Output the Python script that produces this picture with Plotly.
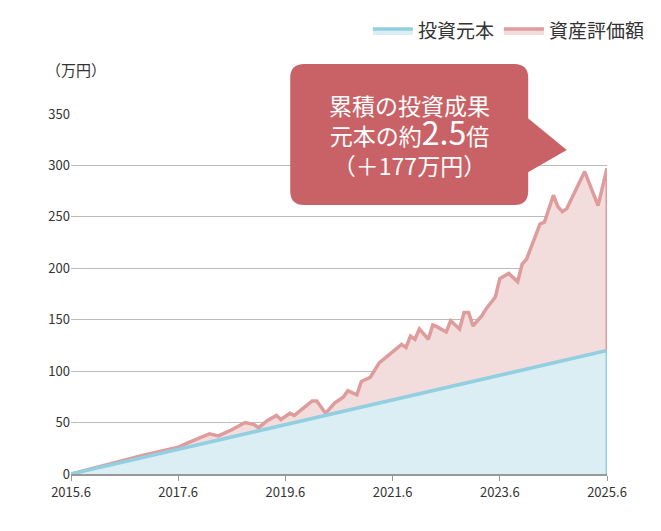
import plotly.graph_objects as go

# months since 2015.6
months = list(range(0, 121))
principal = [m * 1.0 for m in months]  # 1万円 per month

asset_months = [0, 16, 24, 26, 31, 33, 36, 39, 41, 42, 44, 46, 47, 49, 50, 54, 55, 57, 59, 61, 62, 64, 65,
                67, 69, 72, 74, 75, 76, 77, 78, 80, 81, 82, 84, 85, 87, 88, 89, 90, 92, 93, 95, 96, 98,
                100, 101, 102, 104, 105, 106, 108, 109, 110, 111, 113, 115, 118, 120]
asset_values = [0, 18, 26, 30, 39, 37, 43, 50, 48, 45, 52, 57, 53, 59, 57, 71, 71, 59, 69, 75, 81, 77, 90,
                94, 108, 119, 126, 123, 134, 131, 141, 131, 145, 143, 138, 149, 141, 157, 157, 144, 154, 161, 172, 190, 195,
                187, 204, 209, 231, 243, 245, 271, 260, 255, 258, 276, 294, 261, 297]

tick_vals = [0, 24, 48, 72, 96, 120]
tick_text = ["2015.6", "2017.6", "2019.6", "2021.6", "2023.6", "2025.6"]

BLUE = "#92cfe0"
PINK = "#de9c9c"
FONT = "Noto Sans CJK JP"

fig = go.Figure()
fig.add_trace(go.Scatter(x=asset_months, y=asset_values, mode="lines", name="資産評価額",
                         line=dict(color=PINK, width=3.5), fill="tozeroy", fillcolor="#f3dcdc"))
fig.add_trace(go.Scatter(x=months, y=principal, mode="lines", name="投資元本",
                         line=dict(color=BLUE, width=3.5), fill="tozeroy", fillcolor="#dbeef4"))
# right edge strokes
fig.add_trace(go.Scatter(x=[asset_months[-1]] * 2, y=[principal[-1], asset_values[-1]], mode="lines",
                         line=dict(color=PINK, width=3), showlegend=False, hoverinfo="skip"))
fig.add_trace(go.Scatter(x=[months[-1]] * 2, y=[0, principal[-1]], mode="lines",
                         line=dict(color=BLUE, width=3), showlegend=False, hoverinfo="skip"))

# callout box
x0, x1, y0, y1 = 0.409, 0.853, 0.747, 1.139
rx, ry = 14 / 536, 14 / 360
box = (f"M {x0+rx},{y0} L {x1-rx},{y0} Q {x1},{y0} {x1},{y0+ry} "
       f"L {x1},{y1-ry} Q {x1},{y1} {x1-rx},{y1} L {x0+rx},{y1} Q {x0},{y1} {x0},{y1-ry} "
       f"L {x0},{y0+ry} Q {x0},{y0} {x0+rx},{y0} Z")
tri = f"M {x1-0.01},1.0 L 0.925,0.9 L {x1-0.01},0.83 Z"

fig.update_layout(
    width=661, height=531,
    margin=dict(l=63, r=62, t=106, b=65, autoexpand=False),
    plot_bgcolor="white", paper_bgcolor="white",
    font=dict(family=FONT, color="#333333", size=13),
    shapes=[
        dict(type="path", path=box, xref="paper", yref="paper", fillcolor="#c96266", line=dict(width=0)),
        dict(type="path", path=tri, xref="paper", yref="paper", fillcolor="#c96266", line=dict(width=0)),
    ],
    annotations=[
        dict(text="累積の投資成果<br>元本の約<span style='font-size:32px'>2.5</span>倍<br>（＋177万円）",
             x=0.631, y=0.943, xref="paper", yref="paper", showarrow=False, yanchor="middle",
             font=dict(color="white", size=23, family=FONT), align="center"),
        dict(text="（万円）", x=0.01, y=1.125, xref="paper", yref="paper", showarrow=False,
             font=dict(size=15), xanchor="center", yanchor="middle"),
    ],
    legend=dict(orientation="h", x=1.08, xanchor="right", y=1.23, yanchor="middle",
                font=dict(size=19), traceorder="reversed", itemwidth=40),
    xaxis=dict(range=[0, 120], tickvals=tick_vals, ticktext=tick_text, showgrid=False,
               showline=True, linecolor="#999999", linewidth=2, ticks="outside", tickcolor="#999999",
               ticklen=5, zeroline=False),
    yaxis=dict(range=[0, 350], dtick=50, showgrid=True, gridcolor="#bbbbbb", gridwidth=1,
               zeroline=False, showline=False),
)

fig.write_html("out.html")
